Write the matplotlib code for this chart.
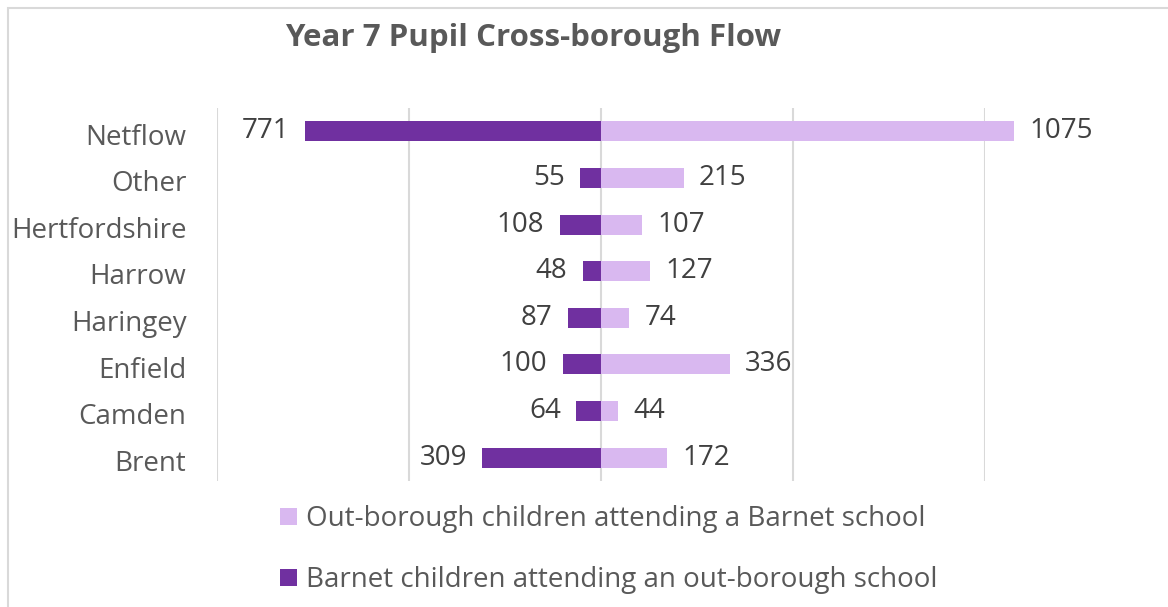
import matplotlib.pyplot as plt
from matplotlib.patches import Rectangle
from matplotlib.transforms import ScaledTranslation

boroughs = ['Brent', 'Camden', 'Enfield', 'Haringey', 'Harrow', 'Hertfordshire', 'Other', 'Netflow']
into_barnet = [172, 44, 336, 74, 127, 107, 215, 1075]
out_of_barnet = [309, 64, 100, 87, 48, 108, 55, 771]

light = '#D9B8F0'
dark = '#7030A0'

plt.rcParams['font.family'] = ['Open Sans', 'DejaVu Sans']

fig = plt.figure(figsize=(11.68, 6.07), dpi=100)
ax = fig.add_axes([217 / 1168, 1 - 481 / 607, (985 - 217) / 1168, (481 - 108) / 607])

y = range(len(boroughs))
b1 = ax.barh(y, into_barnet, height=0.43, color=light, label='Out-borough children attending a Barnet school',
             zorder=3, clip_on=False)
b2 = ax.barh(y, [-v for v in out_of_barnet], height=0.43, color=dark,
             label='Barnet children attending an out-borough school', zorder=3, clip_on=False)

ax.bar_label(b1, labels=[str(v) for v in into_barnet], padding=11, fontsize=20, color='#404040',
             annotation_clip=False)
ax.bar_label(b2, labels=[str(v) for v in out_of_barnet], padding=11, fontsize=20, color='#404040',
             annotation_clip=False)

ax.set_xlim(-1000, 1000)
ax.set_ylim(-0.5, len(boroughs) - 0.5)
ax.set_xticks([-1000, -500, 0, 500, 1000])
ax.set_xticklabels([])
ax.set_yticks(list(y))
ax.set_yticklabels(boroughs)
ax.tick_params(axis='both', length=0)
ax.tick_params(axis='y', labelsize=20, labelcolor='#595959', pad=22)
# category names sit a little below the bar centres
shift = ScaledTranslation(0, -2 / 72, fig.dpi_scale_trans)
for t in ax.get_yticklabels():
    t.set_transform(t.get_transform() + shift)
ax.grid(axis='x', color='#D9D9D9', linewidth=1.5, zorder=0)
for s in ax.spines.values():
    s.set_visible(False)

fig.text(533 / 1168, 1 - 38 / 607, 'Year 7 Pupil Cross-borough Flow', ha='center', va='center',
         fontsize=22.5, fontweight='bold', color='#595959')

leg = fig.legend(handles=[b1, b2], loc='upper left', bbox_to_anchor=(269 / 1168, 1 - 494 / 607),
                 frameon=False, fontsize=20, labelcolor='#595959', handlelength=0.6, handleheight=0.6,
                 handletextpad=0.35, labelspacing=1.2, borderaxespad=0)

fig.patches.append(Rectangle((8 / 1168, -0.1), 1.2, 1.1 - 8 / 607, transform=fig.transFigure,
                             fill=False, edgecolor='#D9D9D9', linewidth=1.5))

fig.savefig('out.png', dpi=100)
